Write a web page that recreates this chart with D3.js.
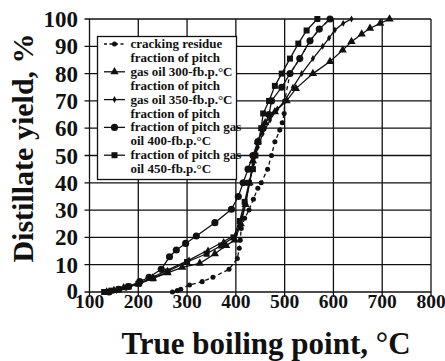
<!DOCTYPE html>
<html><head><meta charset="utf-8">
<script src="https://cdn.jsdelivr.net/npm/d3@7"></script>
<style>body{margin:0;background:#fff}svg{display:block}</style>
</head><body><svg id="c" width="445" height="361"></svg>
<script>
const xTicks = [100,200,300,400,500,600,700,800];
const yTicks = [0,10,20,30,40,50,60,70,80,90,100];
const xTitle = "True boiling point, °C";
const yTitle = "Distillate yield, %";

const crackingT = [270,280,287,305,331,353,386,403,407,409,411,418,427,436,445,452,465,473,480,490,495,499,500,511,531,552,571,593];
const crackingY = [0,0.5,1,2.6,3.8,5.4,8.3,12.3,16,19,23.3,27,30,34,38,40,45,50,55,59.3,62,65.4,70,80,85.5,92,96.3,100];

const go300T = [135,150,170,200,230,260,290,326,357,380,398,410,420,428,435,445,460,480,504,523,558,593,619,637,658,675,696,715];
const go300Y = [0,0.5,1.5,3,5,7,9,10.5,14,17,19,25,32,40,48,55,62,66,70,74.5,80,84.4,88.6,91.7,94.5,96.6,98.4,100];

const go350T = [140,155,175,200,230,260,304,343,375,400,412,420,428,436,445,455,470,485,500,517,535,558,578,591,603,620,637];
const go350Y = [0,0.5,1.5,3,5.5,8,11.7,15.4,18.5,21,27,33,40,47,53,58,63,67,70,75,80,85.5,90,93,96,98.4,100];

const go400T = [140,160,180,203,222,247,264,278,297,319,357,391,405,415,425,435,445,456,468,473,494,511,531,552,571,593];
const go400Y = [0,1,2,3.8,5.4,8.3,12.9,15.4,17.8,20.5,25.4,30.3,35,40,45,50,55,60,65,70,75,80,85.5,92,96.3,100];

const go450T = [130,145,160,180,200,230,260,300,340,370,395,408,418,427,435,440,446,452,456,468,480,494,511,528,545,567];
const go450Y = [0,0.5,1,2,3,5,7.5,11,14,17,20,26,33,40,45,50,55,60,65.4,70,75.5,80,85.5,91,95.8,100];

const legendLines = [
  ["cracking residue","fraction of pitch"],
  ["gas oil 300-fb.p.°C","fraction of pitch"],
  ["gas oil 350-fb.p.°C","fraction of pitch"],
  ["fraction of pitch gas","oil 400-fb.p.°C"],
  ["fraction of pitch gas","oil 450-fb.p.°C"]
];

const series = [
  {T:crackingT, Y:crackingY, sym:d3.symbolCircle, size:20, dash:"4,3"},
  {T:go300T, Y:go300Y, sym:d3.symbolTriangle, size:30, dash:null},
  {T:go350T, Y:go350Y, sym:d3.symbolDiamond, size:14, dash:null},
  {T:go400T, Y:go400Y, sym:d3.symbolCircle, size:40, dash:null},
  {T:go450T, Y:go450Y, sym:d3.symbolSquare, size:36, dash:null}
];

const svg = d3.select("#c");
const x = d3.scaleLinear().domain([100,800]).range([89.5,431]);
const y = d3.scaleLinear().domain([0,100]).range([292,19]);
const serif = "'Liberation Serif','Times New Roman',serif";
const ink = "#111";

// grid
const g = svg.append("g").attr("stroke", ink).attr("stroke-width", 1.3);
yTicks.forEach(v => g.append("line").attr("x1", x(100)-5).attr("x2", x(800)).attr("y1", y(v)).attr("y2", y(v)));
xTicks.forEach(v => g.append("line").attr("x1", x(v)).attr("x2", x(v)).attr("y1", y(100)).attr("y2", y(0)+5));

// tick labels
svg.append("g").selectAll("text").data(yTicks).join("text")
  .attr("x", 78).attr("y", d => y(d)+(d===0 ? 6.5 : 8)).attr("text-anchor","end")
  .attr("font-family", serif).attr("font-weight","bold").attr("font-size", 23).attr("fill", ink)
  .text(d => d);
svg.append("g").selectAll("text").data(xTicks).join("text")
  .attr("x", d => x(d)).attr("y", 308).attr("text-anchor","middle")
  .attr("font-family", serif).attr("font-weight","bold").attr("font-size", 19.5).attr("fill", ink)
  .text(d => d);

// titles
svg.append("text").attr("x", 266).attr("y", 354).attr("text-anchor","middle")
  .attr("font-family", serif).attr("font-weight","bold").attr("font-size", 31).attr("fill", ink).text(xTitle);
svg.append("text").attr("transform","translate(33,148) rotate(-90)").attr("text-anchor","middle")
  .attr("font-family", serif).attr("font-weight","bold").attr("font-size", 30).attr("fill", ink).text(yTitle);

// series
const line = d3.line().x(d => x(d[0])).y(d => y(d[1]));
series.forEach(s => {
  const pts = s.T.map((t,i) => [t, s.Y[i]]);
  svg.append("path").datum(pts).attr("d", line).attr("fill","none").attr("stroke", ink)
    .attr("stroke-width", 1.3).attr("stroke-dasharray", s.dash);
  svg.append("g").selectAll("path").data(pts).join("path")
    .attr("transform", d => `translate(${x(d[0])},${y(d[1])})`)
    .attr("d", d3.symbol(s.sym, s.size)).attr("fill", ink);
});

// legend
const lg = svg.append("g");
lg.append("rect").attr("x", 97.5).attr("y", 36.5).attr("width", 139).attr("height", 143)
  .attr("fill","#fff").attr("stroke", ink).attr("stroke-width", 1.3);
legendLines.forEach((ls, i) => {
  const base = 48 + i*27.8;
  const s = series[i];
  lg.append("line").attr("x1", 104).attr("x2", 125).attr("y1", base-4).attr("y2", base-4)
    .attr("stroke", ink).attr("stroke-width", 1.3).attr("stroke-dasharray", s.dash ? "3,2.5" : null);
  lg.append("path").attr("transform", `translate(114.5,${base-4})`).attr("d", d3.symbol(s.sym, s.size)).attr("fill", ink);
  ls.forEach((t, j) => lg.append("text").attr("x", 130.5).attr("y", base + j*13.9)
    .attr("font-family", serif).attr("font-weight","bold").attr("font-size", 13).attr("fill", ink).text(t));
});
</script></body></html>
